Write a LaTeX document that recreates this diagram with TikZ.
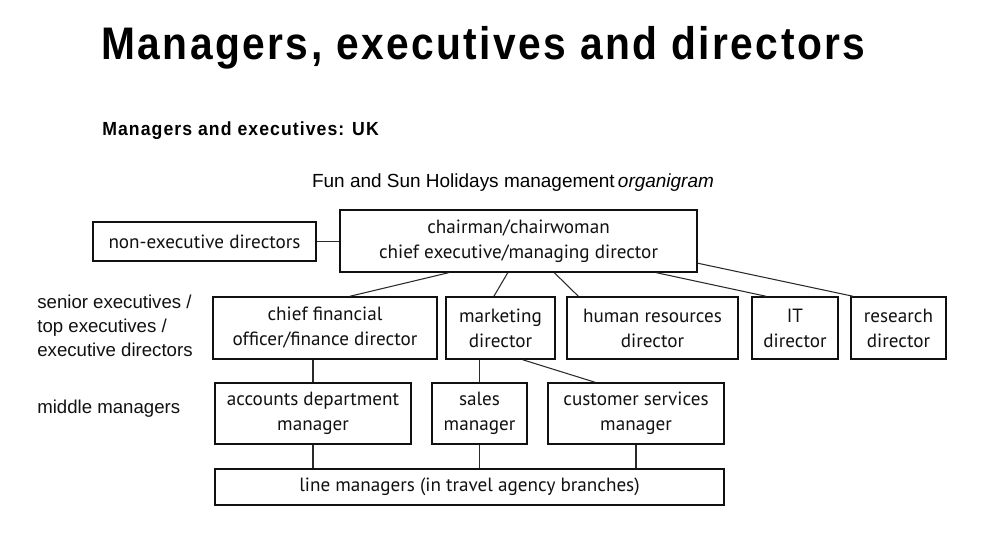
\documentclass[tikz,border=0pt]{standalone}
\usepackage{fontspec}
\setmainfont{Liberation Sans}
\newfontfamily\orgfont{PT Sans}
\newfontfamily\headfont[LetterSpace=6]{Liberation Sans}
\usepackage{xcolor}
\usetikzlibrary{calc}
\definecolor{OGInk}{HTML}{111111}
\definecolor{OGLine}{HTML}{2A2A2A}

\begin{document}
\begin{tikzpicture}[x=0.02cm,y=-0.02cm,
  orgbox/.style={draw=OGInk,line width=.8pt,align=center,inner sep=0pt,
    font=\orgfont\fontsize{10.9}{14.2}\selectfont,text=OGInk},
  link/.style={draw=OGLine,line width=.6pt},
  sidelabel/.style={anchor=north west,align=left,inner sep=0pt,
    font=\fontsize{10.6}{13.6}\selectfont,text=OGInk}]
\path[use as bounding box] (0,0) rectangle (1000,532);
\fill[white] (0,0) rectangle (1000,532);
\node[anchor=west,inner sep=0pt,font=\headfont\bfseries\fontsize{26}{30}\selectfont] (title) at (101,48) {\scalebox{0.892}[1]{Managers, executives and directors}};
\node[anchor=west,inner sep=0pt,font=\headfont\bfseries\fontsize{10.8}{13}\selectfont] (subtitle) at (102,131) {\scalebox{0.93}[1]{Managers and executives: UK}};
\node[inner sep=0pt,font=\fontsize{10.8}{13}\selectfont] (caption) at (513,183) {Fun and Sun Holidays management\,\textit{organigram}};
\node[orgbox,minimum width=223*0.02cm,minimum height=39*0.02cm] (nonexec) at (204.5,241.5) {non-executive directors};
\node[orgbox,minimum width=357*0.02cm,minimum height=62*0.02cm] (chair) at (518.5,241) {chairman/chairwoman\\chief executive/managing director};
\node[orgbox,minimum width=224*0.02cm,minimum height=62*0.02cm] (cfo) at (325,328) {chief financial\\officer/finance director};
\node[orgbox,minimum width=109*0.02cm,minimum height=62*0.02cm] (mkt) at (500.5,328) {marketing\\director};
\node[orgbox,minimum width=171*0.02cm,minimum height=62*0.02cm] (hr) at (652.5,328) {human resources\\director};
\node[orgbox,minimum width=86*0.02cm,minimum height=62*0.02cm] (it) at (795,328) {IT\\director};
\node[orgbox,minimum width=95*0.02cm,minimum height=62*0.02cm] (research) at (898.5,328) {research\\director};
\node[orgbox,minimum width=196*0.02cm,minimum height=61*0.02cm] (accounts) at (313,413.5) {accounts department\\manager};
\node[orgbox,minimum width=95*0.02cm,minimum height=61*0.02cm] (sales) at (479.5,413.5) {sales\\manager};
\node[orgbox,minimum width=176*0.02cm,minimum height=61*0.02cm] (custserv) at (636,413.5) {customer services\\manager};
\node[orgbox,minimum width=509*0.02cm,minimum height=36*0.02cm] (linemgr) at (469.5,487) {line managers (in travel agency branches)};
\node[sidelabel] (senior) at (37,295) {senior executives /\\top executives /\\executive directors};
\node[sidelabel] (middle) at (37,400) {middle managers};
\draw[link] (nonexec.east) -- (nonexec.east -| chair.west);
\draw[link] ($(chair.south west)!0.305!(chair.south east)$) -- ($(cfo.north west)!0.61!(cfo.north east)$);
\draw[link] ($(chair.south west)!0.47!(chair.south east)$) -- ($(mkt.north west)!0.44!(mkt.north east)$);
\draw[link] ($(chair.south west)!0.6!(chair.south east)$) -- ($(hr.north west)!0.07!(hr.north east)$);
\draw[link] ($(chair.south west)!0.885!(chair.south east)$) -- ($(it.north west)!0.17!(it.north east)$);
\draw[link] ($(chair.north east)!0.85!(chair.south east)$) -- ($(research.north west)!0.03!(research.north east)$);
\draw[link] (accounts.north |- cfo.south) -- (accounts.north);
\draw[link] (sales.north |- mkt.south) -- (sales.north);
\draw[link] ($(mkt.south west)!0.7!(mkt.south east)$) -- ($(custserv.north west)!0.27!(custserv.north east)$);
\draw[link] (accounts.south) -- (accounts.south |- linemgr.north);
\draw[link] (sales.south) -- (sales.south |- linemgr.north);
\draw[link] (custserv.south) -- (custserv.south |- linemgr.north);
\end{tikzpicture}
\end{document}
